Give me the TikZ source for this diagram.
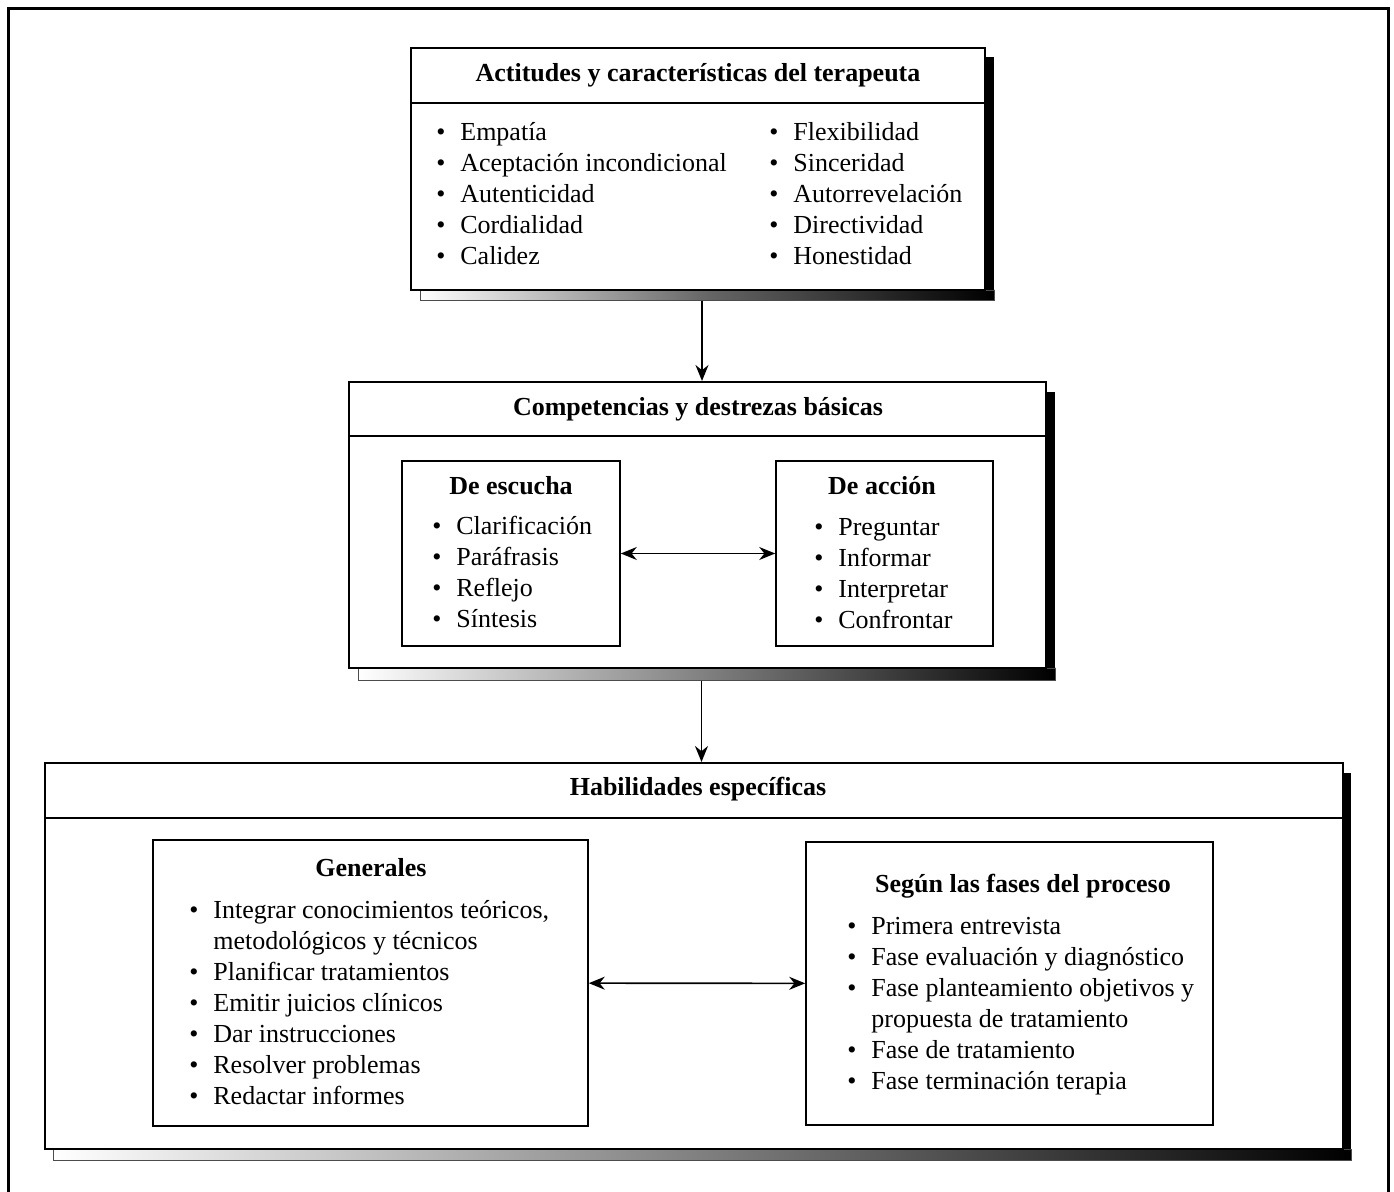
\documentclass[tikz,border=0pt]{standalone}
\usepackage{fontspec}
\setmainfont{Liberation Serif}
\usetikzlibrary{arrows.meta,fit,positioning}

\newcommand{\itm}{\makebox[12pt][l]{\textbullet}}

\begin{document}
\begin{tikzpicture}[x=0.5pt, y=-0.5pt,
    font=\fontsize{13}{15.5}\selectfont,
    box/.style={draw, line width=1pt, inner sep=0pt, fill=white},
    inbox/.style={draw, line width=0.8pt, inner sep=0pt},
    title/.style={font=\fontsize{13}{15.5}\selectfont\bfseries},
    list/.style={align=left, inner sep=0pt, anchor=base west},
    shadowr/.style={fill=black},
    shadowb/.style={draw=black!70, line width=0.3pt, left color=white, right color=black},
    arrow/.style={-{Stealth[length=8pt,width=6.5pt]}, line width=0.9pt},
    biarrow/.style={{Stealth[length=8pt,width=6.5pt]}-{Stealth[length=8pt,width=6.5pt]}, line width=0.8pt}]

    \useasboundingbox (0,0) rectangle (1394,1192);
    % outer frame
    \draw[line width=1.5pt] (8,1192) -- (8,9) -- (1388,9) -- (1388,1192);

    % actitudes
    \fill[shadowr] (985,57) rectangle (994,300);
    \shade[shadowb, middle color=black!60] (420,290) rectangle (994,300);
    \node[box, fit={(411,48) (985,290)}] (act) {};
    \draw[line width=0.8pt] (411,103) -- (985,103);
    \node[title] (acttit) at (698,75) {Actitudes y características del terapeuta};
    \node[list] (actl) at (436,265) {\itm Empatía\\ \itm Aceptación incondicional\\ \itm Autenticidad\\ \itm Cordialidad\\ \itm Calidez};
    \node[list] (actr) at (769,265) {\itm Flexibilidad\\ \itm Sinceridad\\ \itm Autorrevelación\\ \itm Directividad\\ \itm Honestidad};

    % competencias
    \fill[shadowr] (1046,392) rectangle (1055,680);
    \shade[shadowb, middle color=black!50] (358,668) rectangle (1055,680);
    \node[box, fit={(349,382) (1046,668)}] (comp) {};
    \draw[line width=0.8pt] (349,436) -- (1046,436);
    \node[title] (comptit) at (698,409) {Competencias y destrezas básicas};
    \node[inbox, fit={(402,461) (620,646)}] (esc) {};
    \node[title] (esctit) at (511,486) {De escucha};
    \node[list] (escl) at (432,628) {\itm Clarificación\\ \itm Paráfrasis\\ \itm Reflejo\\ \itm Síntesis};
    \node[inbox, fit={(776,461) (993,646)}] (acc) {};
    \node[title] (acctit) at (882,486) {De acción};
    \node[list] (accl) at (814,629) {\itm Preguntar\\ \itm Informar\\ \itm Interpretar\\ \itm Confrontar};
    \draw[biarrow] (esc) -- (acc);

    % habilidades
    \fill[shadowr] (1343,773) rectangle (1351,1160);
    \shade[shadowb] (53,1149) rectangle (1351,1160);
    \node[box, fit={(45,763) (1343,1149)}] (hab) {};
    \draw[line width=0.8pt] (45,818) -- (1343,818);
    \node[title] (habtit) at (698,789) {Habilidades específicas};
    \node[inbox, fit={(153,840) (588,1126)}] (gen) {};
    \node[title] (gentit) at (371,868) {Generales};
    \node[list] (genl) at (189,1104) {\itm Integrar conocimientos teóricos,\\ \hspace*{12pt}metodológicos y técnicos\\ \itm Planificar tratamientos\\ \itm Emitir juicios clínicos\\ \itm Dar instrucciones\\ \itm Resolver problemas\\ \itm Redactar informes};
    \node[inbox, fit={(806,842) (1213,1125)}] (seg) {};
    \node[title] (segtit) at (1023,886) {Según las fases del proceso};
    \node[list] (segl) at (847,1089) {\itm Primera entrevista\\ \itm Fase evaluación y diagnóstico\\ \itm Fase planteamiento objetivos y\\ \hspace*{12pt}propuesta de tratamiento\\ \itm Fase de tratamiento\\ \itm Fase terminación terapia};
    \draw[biarrow] (gen) -- (seg);

    % flujo
    \coordinate (top1) at ([xshift=2pt,yshift=-5pt]act.south);
    \coordinate (top2) at ([xshift=2pt,yshift=-6pt]comp.south);
    \draw[arrow] (top1) -- (top1 |- comp.north);
    \draw[arrow] (top2) -- (top2 |- hab.north);
\end{tikzpicture}
\end{document}
